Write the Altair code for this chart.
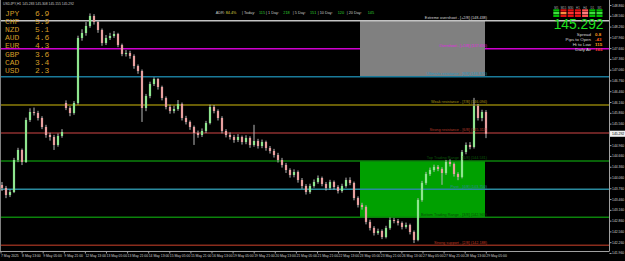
import altair as alt
import pandas as pd

# ---------------- data ----------------
opens = [143.866, 143.783, 143.588, 143.671, 144.562, 144.840, 144.506, 145.675, 145.897, 145.869,
         145.730, 145.480, 145.257, 145.202, 144.979, 145.230, 146.148, 146.008, 145.869, 146.148,
         147.956, 148.095, 148.290, 148.568, 148.401, 148.179, 147.817, 147.956, 148.012, 148.067,
         147.761, 147.511, 147.539, 147.455, 147.177, 147.038, 146.008, 146.342, 146.676, 146.815,
         146.593, 146.287, 146.036, 145.925, 145.981, 146.120, 145.730, 145.619, 145.480, 145.313,
         145.257, 145.369, 145.591, 146.036, 145.925, 145.730, 145.369, 145.257, 145.202, 145.118,
         145.202, 145.062, 145.174, 144.979, 145.090, 144.951, 145.062, 144.896, 144.812, 144.701,
         144.562, 144.423, 144.283, 144.144, 144.228, 144.005, 143.838, 143.671, 143.838, 143.950,
         144.061, 143.894, 143.783, 143.950, 143.810, 143.699, 143.838, 144.005, 143.922, 143.504,
         143.310, 143.254, 142.837, 142.670, 142.531, 142.586, 142.419, 142.670, 142.892, 142.864,
         142.809, 142.698, 142.753, 142.558, 142.336, 143.449, 143.922, 144.172, 144.283, 144.367,
         144.311, 144.200, 144.506, 144.450, 144.172, 144.089, 144.784, 144.979, 144.923, 146.064,
         145.730, 145.897]
closes = [143.783, 143.588, 143.671, 144.562, 144.840, 144.506, 145.675, 145.897, 145.869, 145.730,
          145.480, 145.257, 145.202, 144.979, 145.230, 145.341, 146.008, 145.869, 146.148, 147.956,
          148.095, 148.290, 148.568, 148.401, 148.179, 147.817, 147.956, 148.012, 148.067, 147.761,
          147.511, 147.539, 147.455, 147.177, 147.038, 146.008, 146.342, 146.676, 146.815, 146.593,
          146.287, 146.036, 145.925, 145.981, 146.120, 145.730, 145.619, 145.480, 145.313, 145.257,
          145.369, 145.591, 146.036, 145.925, 145.730, 145.369, 145.257, 145.202, 145.118, 145.202,
          145.062, 145.174, 144.979, 145.090, 144.951, 145.062, 144.896, 144.812, 144.701, 144.562,
          144.423, 144.283, 144.144, 144.228, 144.005, 143.838, 143.671, 143.838, 143.950, 144.061,
          143.894, 143.783, 143.950, 143.810, 143.699, 143.838, 144.005, 143.922, 143.504, 143.310,
          143.254, 142.837, 142.670, 142.531, 142.586, 142.419, 142.670, 142.892, 142.864, 142.809,
          142.698, 142.753, 142.558, 142.336, 143.449, 143.922, 144.172, 144.283, 144.367, 144.311,
          144.200, 144.506, 144.450, 144.172, 144.089, 144.784, 144.979, 144.923, 146.064, 145.730,
          145.897, 145.292]
highs = [143.95, 143.84, 143.74, 144.62, 144.90, 144.88, 145.74, 146.00, 146.02, 145.93,
         145.78, 145.54, 145.32, 145.26, 145.30, 145.42, 146.22, 146.06, 146.20, 148.02,
         148.20, 148.40, 148.64, 148.62, 148.45, 148.22, 148.04, 148.10, 148.15, 148.10,
         147.80, 147.62, 147.60, 147.50, 147.22, 147.08, 146.40, 146.74, 146.86, 146.84,
         146.63, 146.33, 146.10, 146.07, 146.23, 146.16, 145.79, 145.66, 145.52, 145.38,
         145.44, 145.65, 146.10, 146.09, 145.97, 145.78, 145.42, 145.33, 145.26, 145.28,
         145.24, 145.25, 145.22, 145.54, 145.15, 145.13, 145.10, 144.95, 144.87, 144.76,
         144.62, 144.48, 144.33, 144.30, 144.27, 144.06, 143.89, 143.90, 144.02, 144.13,
         144.10, 143.95, 144.01, 143.99, 143.86, 143.90, 144.07, 144.08, 143.96, 143.55,
         143.37, 143.30, 142.90, 142.72, 142.65, 142.63, 142.73, 142.96, 142.95, 142.92,
         142.85, 142.82, 142.79, 142.60, 143.50, 143.98, 144.23, 144.35, 144.43, 144.42,
         144.36, 144.56, 144.58, 144.49, 144.22, 144.84, 145.05, 145.06, 146.29, 146.12,
         145.96, 145.95]
lows = [143.70, 143.50, 143.53, 143.64, 144.50, 144.42, 144.48, 145.62, 145.80, 145.66,
        145.42, 145.18, 145.10, 144.84, 144.93, 145.18, 145.95, 145.78, 145.82, 146.10,
        147.88, 148.02, 148.24, 148.33, 148.10, 147.74, 147.76, 147.90, 147.96, 147.70,
        147.45, 147.44, 147.38, 147.10, 146.96, 145.62, 145.92, 146.28, 146.62, 146.52,
        146.22, 145.97, 145.85, 145.86, 145.93, 145.66, 145.55, 145.40, 144.98, 145.18,
        145.20, 145.31, 145.55, 145.86, 145.66, 145.30, 145.19, 145.13, 145.04, 145.06,
        144.99, 145.00, 144.90, 144.93, 144.88, 144.89, 144.82, 144.74, 144.63, 144.49,
        144.35, 144.20, 144.07, 144.08, 143.93, 143.76, 143.60, 143.62, 143.79, 143.90,
        143.83, 143.71, 143.73, 143.74, 143.63, 143.65, 143.79, 143.86, 143.44, 143.24,
        143.18, 142.77, 142.60, 142.46, 142.48, 142.36, 142.38, 142.62, 142.80, 142.74,
        142.63, 142.65, 142.49, 142.25, 142.30, 143.40, 143.87, 144.12, 144.23, 144.25,
        143.87, 144.15, 144.38, 144.10, 144.00, 144.05, 144.72, 144.86, 144.88, 145.66,
        145.64, 145.17]

level_prices = [148.438, 147.656, 146.875, 146.094, 145.313, 144.531, 143.750, 142.969, 142.188]
level_names = ["Extreme overshoot - [+2/8]", "Overshoot - [+1/8]", "Ultimate resistance - [8/8]",
               "Weak resistance - [7/8]", "Strong resistance - [6/8]", "Top Trading Range - [5/8]",
               "Pivot - [4/8]", "Bottom Trading Range - [3/8]", "Strong support - [2/8]"]
level_colors = ["#c4c4c4", "#d000d0", "#1a7a9a", "#8c7e08", "#8c2f2f", "#0b820b", "#2a8a9e",
                "#0b820b", "#8a2c1c"]
level_text_colors = ["#d8d8d8", "#e020e0", "#2a9ac0", "#a89410", "#b83a2a", "#0a5a0a", "#2a8a9e",
                     "#0a4a0a", "#c03a22"]
level_front = [True, False, True, True, True, True, True, True, True]

zone_start = [89.5, 89.5]
zone_end = [120.75, 120.75]
zone_lo = [146.875, 142.969]
zone_hi = [148.438, 144.531]
zone_colors = ["#808080", "#00a000"]
level_label_end = 121.25

date_labels = ["7 May 2025", "8 May 13:00", "9 May 05:00", "9 May 21:00", "12 May 13:00",
               "13 May 05:00", "13 May 21:00", "14 May 13:00", "15 May 05:00", "15 May 21:00",
               "16 May 13:00", "19 May 05:00", "19 May 21:00", "20 May 13:00", "21 May 05:00",
               "21 May 21:00", "22 May 13:00", "23 May 05:00", "23 May 21:00", "26 May 13:00",
               "27 May 05:00", "27 May 21:00", "28 May 13:00", "29 May 05:00"]
bars_per_date_label = 5.275

axis_labels = ["141.960", "142.260", "142.560", "142.860", "143.160", "143.460", "143.760",
               "144.060", "144.360", "144.660", "144.960", "145.260", "145.560", "145.860",
               "146.160", "146.460", "146.760", "147.060", "147.360", "147.660", "147.960",
               "148.260", "148.560", "148.860"]
current_price = 145.292

currencies = ["JPY", "CHF", "NZD", "AUD", "EUR", "GBP", "CAD", "USD"]
strengths = ["6.9", "5.9", "5.1", "4.6", "4.3", "3.6", "3.4", "2.3"]

adr_labels = ["ADR:", "| Today:", "| 1 Day:", "| 5 Day:", "| 10 Day:", "| 20 Day:"]
adr_values = ["84.4%", "115", "218", "151", "120", "145"]
adr_value_colors = ["#d8d040", "#30d030", "#30d030", "#30d030", "#30d030", "#30d030"]
adr_label_x = [215.7, 242.0, 266.0, 292.7, 317.7, 346.7]
adr_value_x = [225.7, 259.0, 283.3, 310.0, 337.7, 367.7]

info_labels = ["Spread", "Pips to Open", "Hi to Low", "Daily Av"]
info_values = ["0.8", "-43", "115", "165"]
info_value_colors = ["#ff9a1a", "#ff5a1a", "#ffa01a", "#ff3b3b"]

tf_labels = ["M5", "M15", "M30", "H1", "H4", "D1", "W1"]
tf_colors = [["#00c000", "#40e040", "#00c000"],
             ["#e01010", "#ff9040", "#e01010"],
             ["#e01010", "#ff3030", "#e01010"],
             ["#e01010", "#ff3030", "#e01010"],
             ["#ff5050", "#ff8080", "#ff5050"],
             ["#00c000", "#40e040", "#00c000"],
             ["#00c000", "#40e040", "#00c000"]]

header = "USDJPY,H1  145.283 145.308 145.155 145.292"

# ---------------- layout ----------------
W, H = 609, 251
XDOM = [-0.5, 151.75]
YDOM = [142.029, 149.0135]
FONT = "Liberation Sans"


def xq(f):
    return alt.X(f, type="quantitative", scale=alt.Scale(domain=XDOM, nice=False, zero=False), axis=None)


def yq(f):
    return alt.Y(f, type="quantitative", scale=alt.Scale(domain=YDOM, nice=False, zero=False), axis=None)


def xp(f):
    return alt.X(f, type="quantitative", scale=None, axis=None)


def yp(f):
    return alt.Y(f, type="quantitative", scale=None, axis=None)


candles = pd.DataFrame({"bar": list(range(len(closes))), "open": opens, "close": closes,
                        "high": highs, "low": lows})
candles["dir"] = ["up" if c >= o else "down" for o, c in zip(opens, closes)]

levels = pd.DataFrame({"price": level_prices, "name": level_names, "color": level_colors,
                       "tcolor": level_text_colors, "front": level_front})
levels["label"] = [f"{n} ({p:.3f})" for n, p in zip(level_names, level_prices)]
levels["xend"] = level_label_end

zones = pd.DataFrame({"start": zone_start, "end": zone_end, "lo": zone_lo, "hi": zone_hi,
                      "color": zone_colors})

dates = pd.DataFrame({"label": date_labels})
dates["pos"] = [k * bars_per_date_label - 0.25 for k in range(len(date_labels))]

axis_df = pd.DataFrame({"label": axis_labels, "price": [float(v) for v in axis_labels]})

cur_df = pd.DataFrame({"price": [current_price], "lo": [current_price - 0.085],
                       "hi": [current_price + 0.085], "label": [f"{current_price:.3f}"]})

cur_list = pd.DataFrame({"cur": currencies, "val": strengths})
cur_list["py"] = [14 + 8.1 * k for k in range(len(currencies))]

adr_df = pd.DataFrame({"text": adr_labels + adr_values,
                       "px": adr_label_x + adr_value_x,
                       "color": ["#c8c8c8"] * len(adr_labels) + adr_value_colors})

info_df = pd.DataFrame({"label": info_labels, "val": info_values, "color": info_value_colors})
info_df["py"] = [34.6 + 5.0 * k for k in range(len(info_labels))]

tf_rows = []
for c, cols in enumerate(tf_colors):
    for r, col in enumerate(cols):
        tf_rows.append({"x0": 553.3 + 7.2 * c, "x1": 559.3 + 7.2 * c,
                        "y0": 9.3 + 2.7 * r, "y1": 11.6 + 2.7 * r, "color": col})
tf_df = pd.DataFrame(tf_rows)
tf_lab = pd.DataFrame({"label": tf_labels, "px": [556.3 + 7.2 * c for c in range(len(tf_labels))]})

# ---------------- layers ----------------
back_lines = alt.Chart(levels).transform_filter("!datum.front").mark_rule(strokeWidth=1.5).encode(
    y=yq("price"), color=alt.Color("color:N", scale=None))

zone_rects = alt.Chart(zones).mark_rect().encode(
    x=xq("start"), x2="end", y=yq("lo"), y2="hi", color=alt.Color("color:N", scale=None))

front_lines = alt.Chart(levels).transform_filter("datum.front").mark_rule(strokeWidth=1.5).encode(
    y=yq("price"), color=alt.Color("color:N", scale=None))

wicks = alt.Chart(candles).mark_rule(color="#b8b8b8", strokeWidth=1).encode(
    x=xq("bar"), y=yq("low"), y2="high")

bodies = alt.Chart(candles).mark_rule(strokeWidth=2.2, strokeCap="butt").encode(
    x=xq("bar"), y=yq("open"), y2="close",
    color=alt.Color("dir:N", scale=alt.Scale(domain=["up", "down"], range=["#8fe58f", "#e8a0a0"]),
                    legend=None))

level_text = alt.Chart(levels).mark_text(align="right", baseline="bottom", dy=-0.6, fontSize=3.8,
                                          font=FONT).encode(
    x=xq("xend"), y=yq("price"), text="label:N", color=alt.Color("tcolor:N", scale=None))

frame_right = alt.Chart(pd.DataFrame({"a": [0]})).mark_rule(color="#a0a0a0", strokeWidth=1).encode(
    x=alt.value(609.5), y=alt.value(0), y2=alt.value(251))
frame_bottom = alt.Chart(pd.DataFrame({"a": [0]})).mark_rule(color="#a0a0a0", strokeWidth=1).encode(
    y=alt.value(251.5), x=alt.value(0), x2=alt.value(609.5))
frame_left = alt.Chart(pd.DataFrame({"a": [0]})).mark_rule(color="#808080", strokeWidth=1).encode(
    x=alt.value(0.5), y=alt.value(0), y2=alt.value(251))

date_ticks = alt.Chart(dates).mark_rule(color="#a0a0a0").encode(
    x=xq("pos"), y=alt.value(251.5), y2=alt.value(253.5))
date_text = alt.Chart(dates).mark_text(align="left", baseline="middle", fontSize=3.4, font=FONT,
                                        color="#d0d0d0").encode(
    x=xq("pos"), y=alt.value(256.3), text="label:N")

axis_ticks = alt.Chart(axis_df).mark_rule(color="#a0a0a0").encode(
    y=yq("price"), x=alt.value(609.5), x2=alt.value(611.5))
axis_text = alt.Chart(axis_df).mark_text(align="left", baseline="middle", fontSize=3.4, font=FONT,
                                          color="#d0d0d0").encode(
    x=alt.value(612), y=yq("price"), text="label:N")

cur_box = alt.Chart(cur_df).mark_rect(color="#f0f0f0").encode(
    x=alt.value(610), x2=alt.value(625), y=yq("lo"), y2="hi")
cur_text = alt.Chart(cur_df).mark_text(align="left", baseline="middle", fontSize=3.4, font=FONT,
                                        color="#000000").encode(
    x=alt.value(612), y=yq("price"), text="label:N")

header_text = alt.Chart(pd.DataFrame({"t": [header]})).mark_text(
    align="left", baseline="middle", fontSize=3.4, font=FONT, color="#c8c8c8").encode(
    x=alt.value(3), y=alt.value(3.5), text="t:N")

cur_names = alt.Chart(cur_list).mark_text(align="left", baseline="middle", fontSize=8.0,
                                           font="Liberation Mono", color="#d09a26").encode(
    x=alt.value(5), y=yp("py"), text="cur:N")
cur_vals = alt.Chart(cur_list).mark_text(align="left", baseline="middle", fontSize=8.0,
                                          font="Liberation Mono", color="#d09a26").encode(
    x=alt.value(35), y=yp("py"), text="val:N")

adr_text = alt.Chart(adr_df).mark_text(align="left", baseline="middle", fontSize=3.8, font=FONT).encode(
    x=xp("px"), y=alt.value(13.3), text="text:N", color=alt.Color("color:N", scale=None))

big_price = alt.Chart(pd.DataFrame({"t": [f"{current_price:.3f}"]})).mark_text(
    align="right", baseline="alphabetic", fontSize=13.8, font=FONT, color="#1ee01e").encode(
    x=alt.value(603.5), y=alt.value(29.0), text="t:N")

info_lab = alt.Chart(info_df).mark_text(align="right", baseline="middle", fontSize=4.4, font=FONT,
                                         color="#d8d8d8").encode(
    x=alt.value(591), y=yp("py"), text="label:N")
info_val = alt.Chart(info_df).mark_text(align="left", baseline="middle", fontSize=4.4, font=FONT,
                                         fontWeight="bold").encode(
    x=alt.value(595), y=yp("py"), text="val:N", color=alt.Color("color:N", scale=None))

tf_boxes = alt.Chart(tf_df).mark_rect().encode(
    x=xp("x0"), x2="x1", y=yp("y0"), y2="y1", color=alt.Color("color:N", scale=None))
tf_text = alt.Chart(tf_lab).mark_text(align="center", baseline="middle", fontSize=2.8, font=FONT,
                                       color="#b0b0b0").encode(
    x=xp("px"), y=alt.value(7.2), text="label:N")

chart = alt.layer(
    back_lines, zone_rects, front_lines, wicks, bodies, level_text,
    frame_right, frame_bottom, frame_left, date_ticks, date_text, axis_ticks, axis_text,
    cur_box, cur_text, header_text, cur_names, cur_vals, adr_text, big_price, info_lab, info_val,
    tf_boxes, tf_text,
).resolve_scale(x="independent", y="independent", color="independent").properties(
    width=W, height=H,
    padding={"left": 0, "top": 0, "right": 16, "bottom": 10},
    autosize=alt.AutoSizeParams(type="none"),
).configure(background="#000000").configure_view(stroke=None)

chart.save("out.html", embed_options={"renderer": "svg", "actions": False})
